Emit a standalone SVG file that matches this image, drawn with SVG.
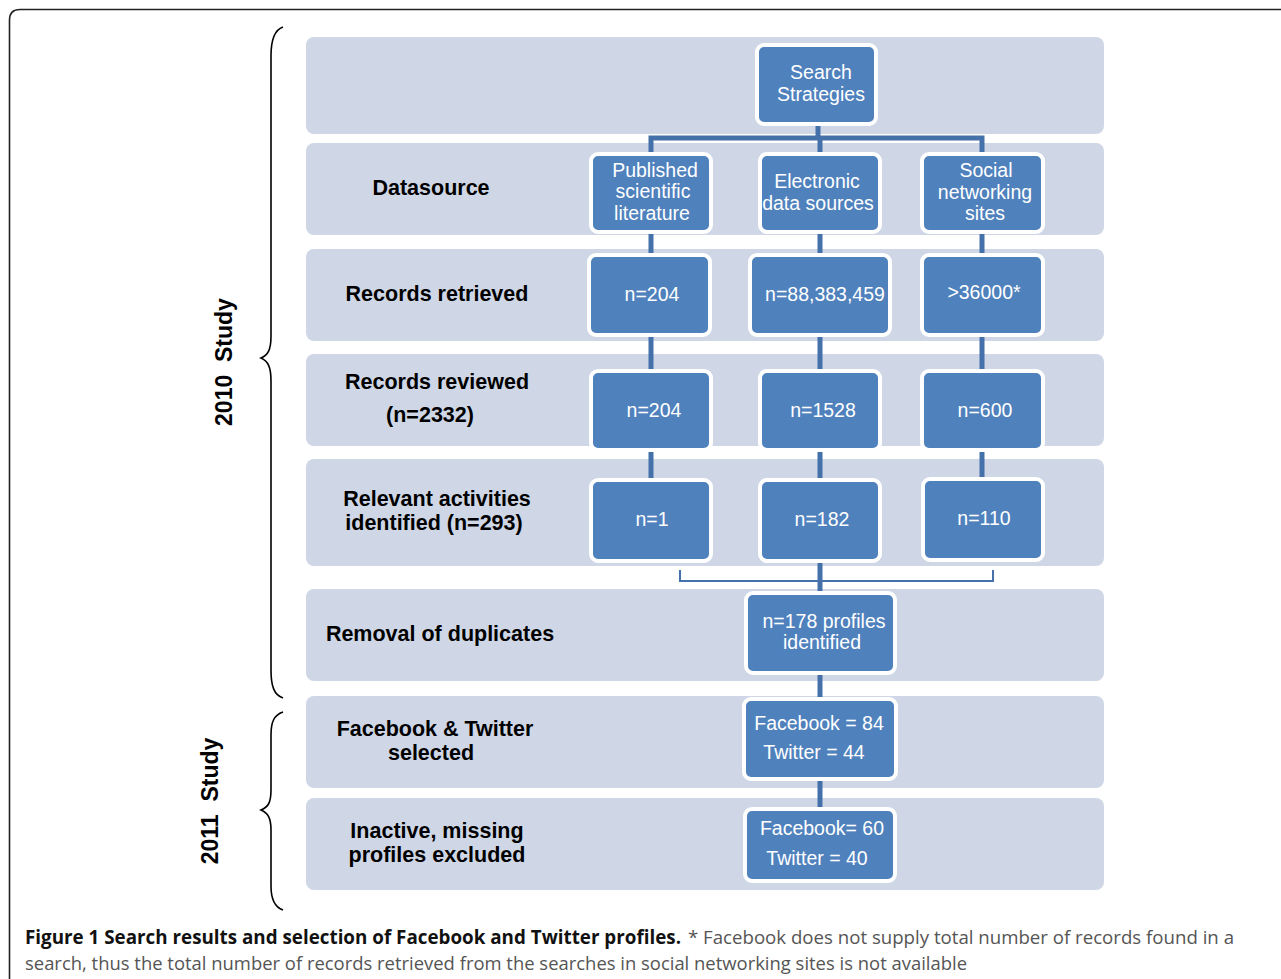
<svg xmlns="http://www.w3.org/2000/svg" width="1281" height="979" viewBox="0 0 1281 979">
<style>
.band{fill:#CFD7E6}
.box{fill:#4F81BD;stroke:#FFFFFF;stroke-width:4}
.nt{font-family:"Liberation Sans",Arial,sans-serif;font-size:19.5px;fill:#FFFFFF;text-anchor:middle}
.lt{font-family:"Liberation Sans",Arial,sans-serif;font-size:21.5px;font-weight:bold;fill:#000000;text-anchor:middle}
.st{font-family:"Liberation Sans",Arial,sans-serif;font-size:23px;font-weight:bold;fill:#000000;text-anchor:middle}
.con{stroke:#4471A9;stroke-width:5;fill:none}
.brk{stroke:#4471A9;stroke-width:2;fill:none}
.brace{stroke:#000000;stroke-width:1.6;fill:none}
.cap{font-family:"Open Sans","Liberation Sans",sans-serif;font-size:19px}
</style>
<rect width="1281" height="979" fill="#FFFFFF"/>
<path d="M9.5,1000 V20 Q9.5,9.5 20,9.5 H1300" fill="none" stroke="#222222" stroke-width="1.6"/>

<g id="bands">
<rect class="band" x="306" y="37" width="798" height="97" rx="8"/>
<rect class="band" x="306" y="143" width="798" height="92" rx="8"/>
<rect class="band" x="306" y="249" width="798" height="92" rx="8"/>
<rect class="band" x="306" y="354" width="798" height="92" rx="8"/>
<rect class="band" x="306" y="459" width="798" height="107" rx="8"/>
<rect class="band" x="306" y="589" width="798" height="92" rx="8"/>
<rect class="band" x="306" y="696" width="798" height="92" rx="8"/>
<rect class="band" x="306" y="798" width="798" height="92" rx="8"/>
</g>

<g id="braces">
<path class="brace" d="M283,27 C274,30 271,40 271,56 L271,336 C271,350 268,355 261,358 C268,361 271,367 271,381 L271,670 C271,686 274,695 283,698"/>
<path class="brace" d="M283,712 C274,715 271,722 271,735 L271,790 C271,803 268,807 261,810 C268,813 271,818 271,830 L271,886 C271,899 274,907 283,910"/>
<text class="st" transform="translate(232,362) rotate(-90)" xml:space="preserve">2010  Study</text>
<text class="st" transform="translate(218,801) rotate(-90)" xml:space="preserve">2011  Study</text>
</g>

<g id="labels">
<text class="lt" x="431" y="195">Datasource</text>
<text class="lt" x="437" y="301">Records retrieved</text>
<text class="lt" x="437" y="389">Records reviewed</text>
<text class="lt" x="430" y="422">(n=2332)</text>
<text class="lt" x="437" y="506">Relevant activities</text>
<text class="lt" x="434" y="530">identified (n=293)</text>
<text class="lt" x="440" y="641">Removal of duplicates</text>
<text class="lt" x="435" y="736">Facebook &amp; Twitter</text>
<text class="lt" x="431" y="760">selected</text>
<text class="lt" x="437" y="838">Inactive, missing</text>
<text class="lt" x="437" y="862">profiles excluded</text>
</g>

<g id="connectors">
<path class="con" d="M818,126 V138"/>
<path class="con" d="M651,154 V138 H982 V154"/>
<path class="con" d="M820,138 V154"/>
<path class="con" d="M651,232 V255 M820,232 V255 M982,232 V255"/>
<path class="con" d="M651,335 V371 M820,335 V371 M982,335 V371"/>
<path class="con" d="M651,450 V480 M820,450 V480 M982,450 V479"/>
<path class="con" d="M820,561 V593"/>
<path class="brk" d="M680,570 V581 H993 V570"/>
<path class="con" d="M820,673 V699"/>
<path class="con" d="M820,779 V809"/>
</g>

<g id="n-search">
<rect class="box" x="757" y="45" width="119" height="79" rx="7"/>
<text class="nt" x="821" y="79">Search</text>
<text class="nt" x="821" y="101">Strategies</text>
</g>
<g id="n-published">
<rect class="box" x="591" y="154" width="120" height="78" rx="7"/>
<text class="nt" x="655" y="177">Published</text>
<text class="nt" x="653" y="198">scientific</text>
<text class="nt" x="652" y="220">literature</text>
</g>
<g id="n-electronic">
<rect class="box" x="760" y="154" width="120" height="78" rx="7"/>
<text class="nt" x="817" y="188">Electronic</text>
<text class="nt" x="818" y="210">data sources</text>
</g>
<g id="n-social">
<rect class="box" x="922" y="154" width="121" height="78" rx="7"/>
<text class="nt" x="986" y="177">Social</text>
<text class="nt" x="985" y="199">networking</text>
<text class="nt" x="985" y="220">sites</text>
</g>

<g id="n-ret-pub">
<rect class="box" x="589" y="255" width="121" height="80" rx="7"/>
<text class="nt" x="652" y="301">n=204</text>
</g>
<g id="n-ret-ele">
<rect class="box" x="750" y="255" width="140" height="80" rx="7"/>
<text class="nt" x="825" y="301">n=88,383,459</text>
</g>
<g id="n-ret-soc">
<rect class="box" x="922" y="255" width="121" height="80" rx="7"/>
<text class="nt" x="984" y="299">&gt;36000*</text>
</g>

<g id="n-rev-pub">
<rect class="box" x="591" y="371" width="120" height="79" rx="7"/>
<text class="nt" x="654" y="417">n=204</text>
</g>
<g id="n-rev-ele">
<rect class="box" x="760" y="371" width="120" height="79" rx="7"/>
<text class="nt" x="823" y="417">n=1528</text>
</g>
<g id="n-rev-soc">
<rect class="box" x="922" y="371" width="121" height="79" rx="7"/>
<text class="nt" x="985" y="417">n=600</text>
</g>

<g id="n-rel-pub">
<rect class="box" x="591" y="480" width="120" height="81" rx="7"/>
<text class="nt" x="652" y="526">n=1</text>
</g>
<g id="n-rel-ele">
<rect class="box" x="760" y="480" width="120" height="81" rx="7"/>
<text class="nt" x="822" y="526">n=182</text>
</g>
<g id="n-rel-soc">
<rect class="box" x="923" y="479" width="120" height="81" rx="7"/>
<text class="nt" x="984" y="525">n=110</text>
</g>

<g id="n-dup">
<rect class="box" x="746" y="593" width="149" height="80" rx="7"/>
<text class="nt" x="824" y="628">n=178 profiles</text>
<text class="nt" x="822" y="649">identified</text>
</g>
<g id="n-selected">
<rect class="box" x="744" y="699" width="152" height="80" rx="7"/>
<text class="nt" x="819" y="730">Facebook = 84</text>
<text class="nt" x="814" y="759">Twitter = 44</text>
</g>
<g id="n-excluded">
<rect class="box" x="745" y="809" width="150" height="72" rx="7"/>
<text class="nt" x="822" y="835">Facebook= 60</text>
<text class="nt" x="817" y="865">Twitter = 40</text>
</g>

<g id="caption">
<text class="cap" x="25" y="944" font-weight="bold" fill="#111111" textLength="656" lengthAdjust="spacingAndGlyphs">Figure 1 Search results and selection of Facebook and Twitter profiles.</text>
<text class="cap" x="688" y="944" fill="#555555" textLength="546" lengthAdjust="spacingAndGlyphs">* Facebook does not supply total number of records found in a</text>
<text class="cap" x="25" y="970" fill="#555555" textLength="942" lengthAdjust="spacingAndGlyphs">search, thus the total number of records retrieved from the searches in social networking sites is not available</text>
</g>
</svg>
